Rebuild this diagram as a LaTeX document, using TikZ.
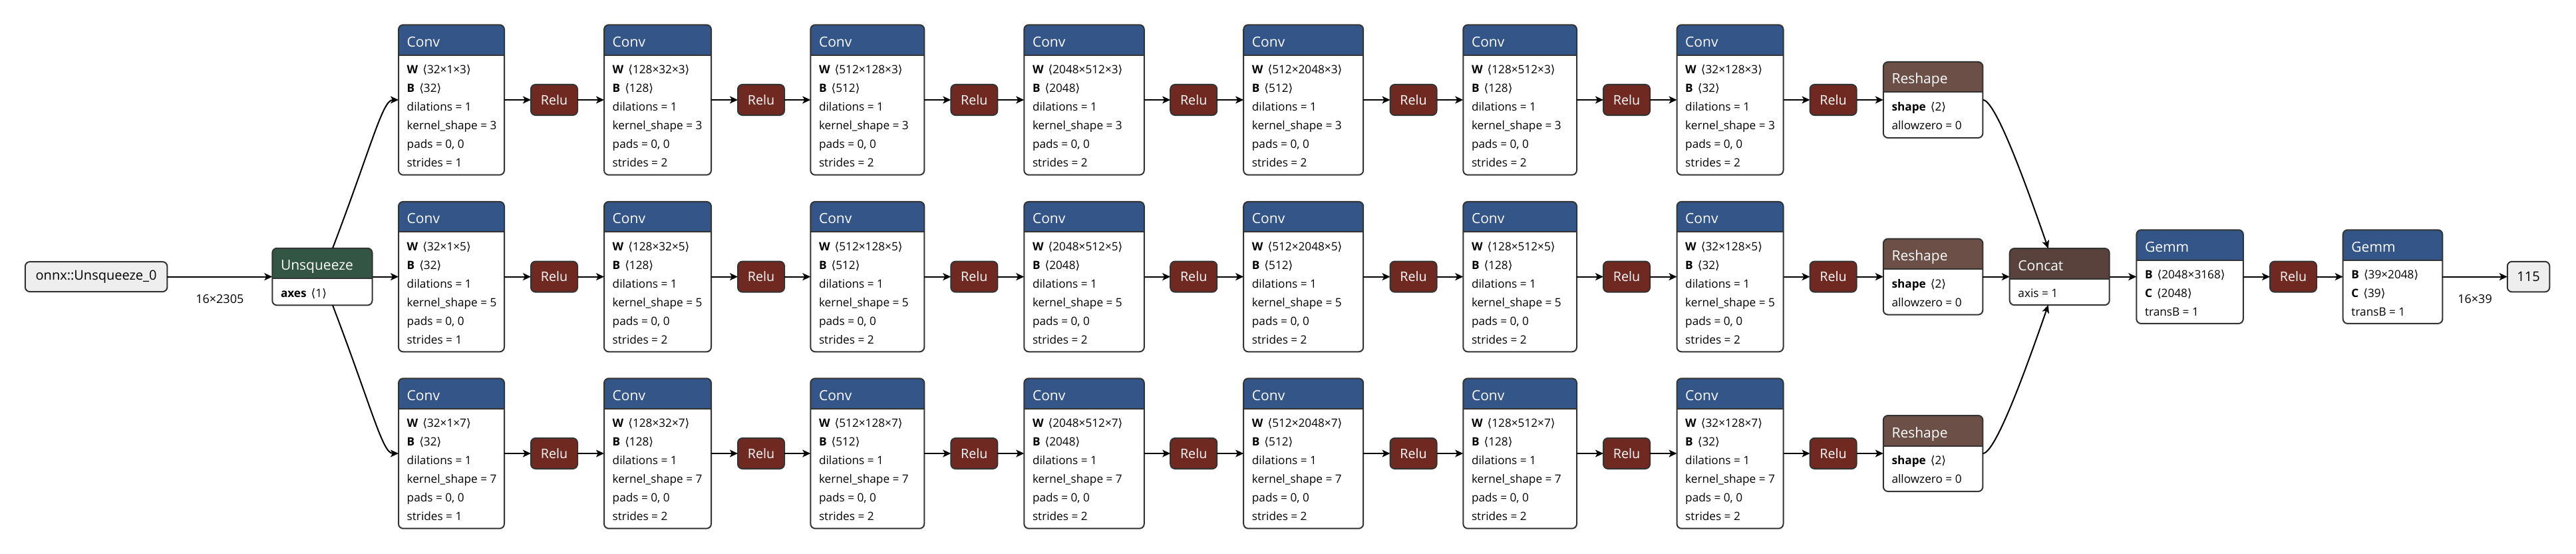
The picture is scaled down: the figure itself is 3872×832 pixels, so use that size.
\documentclass[tikz,border=0pt]{standalone}
\usepackage{fontspec}
\setmainfont{Open Sans}
\newfontfamily\symfont{DejaVu Sans}
\usetikzlibrary{arrows.meta}
\definecolor{convblue}{RGB}{51,85,136}
\definecolor{relured}{RGB}{112,41,33}
\definecolor{reshapec}{RGB}{108,79,71}
\definecolor{concatc}{RGB}{89,66,59}
\definecolor{unsqc}{RGB}{51,85,68}
\definecolor{iofill}{RGB}{238,238,238}
\definecolor{bordercol}{RGB}{51,51,51}
\newcommand\ang[1]{{\symfont ⟨}#1{\symfont ⟩}}
\newcommand\wsep{\hspace{7pt}}
\tikzset{
  opframe/.style={rectangle, fill=white, inner sep=0pt, outer sep=0pt},
  boxline/.style={draw=bordercol, line width=2pt},
  titletext/.style={text=white, inner sep=0pt, font=\fontsize{21pt}{25pt}\selectfont},
  bodytext/.style={text=black, inner sep=0pt, font=\fontsize{17.2pt}{20pt}\selectfont},
  relu/.style={rectangle, draw=bordercol, fill=relured, line width=2pt, rounded corners=7pt,
    minimum width=70pt, minimum height=46pt, inner sep=0pt, outer sep=0pt, text=white,
    font=\fontsize{19.7pt}{24pt}\selectfont},
  io/.style={rectangle, draw=bordercol, fill=iofill, line width=2pt, rounded corners=7pt,
    inner sep=0pt, outer sep=0pt, text=black, font=\fontsize{20pt}{24pt}\selectfont},
  edge/.style={draw=black, line width=2pt, -{Stealth[length=12pt,width=11pt,inset=3pt]}},
  elabel/.style={inner sep=0pt, text=black, font=\fontsize{18pt}{22pt}\selectfont},
}
% #1 name, #2 left x, #3 centre y, #4 width, #5 height, #6 header colour, #7 title, #8 body lines
\newcommand\opnode[8]{%
  \node[opframe, minimum width=#4pt, minimum height=#5pt, anchor=west] (#1) at (#2,#3) {};
  \begin{scope}
    \clip[rounded corners=7pt] (#1.north west) rectangle (#1.south east);
    \fill[#6] (#1.north west) rectangle ([yshift=-45.5pt]#1.north east);
  \end{scope}
  \draw[boxline] ([yshift=-45.5pt]#1.north west) -- ([yshift=-45.5pt]#1.north east);
  \draw[boxline, rounded corners=7pt] (#1.north west) rectangle (#1.south east);
  \node[titletext, anchor=base west] (#1-t) at ([xshift=12.5pt,yshift=-33pt]#1.north west) {#7};
  \foreach \bodyline [count=\bi] in {#8} {
    \node[bodytext, anchor=base west] (#1-\bi) at ([xshift=12.5pt,yshift={-45.5pt-28pt*\bi}]#1.north west) {\bodyline};
  }%
}
\begin{document}
\begin{tikzpicture}[x=1pt,y=-1pt]
\fill[white] (0,0) rectangle (3872,832);
\useasboundingbox (0,0) rectangle (3872,832);

% input and unsqueeze
\node[io, minimum width=213.5pt, minimum height=45pt] (in) at (144.6,415.6) {onnx::Unsqueeze\_0};
\opnode{unsq}{409.3}{415.6}{150.2}{85.6}{unsqc}{Unsqueeze}{{\textbf{axes}\wsep\ang{1}}}
\draw[edge] (in) -- node[elabel, yshift=-33pt] (lbl1) {16×2305} (unsq);

% three branches
\foreach \row/\yy/\k in {1/150/3,2/415.6/5,3/681/7}{
  \foreach \col/\xx/\ww/\wa/\wb/\bb/\st in {1/599/159/32/1/32/1,2/908/161/128/32/128/2,3/1218.3/171/512/128/512/2,4/1539.3/180.5/2048/512/2048/2,5/1869.2/180/512/2048/512/2,6/2199.3/170.7/128/512/128/2,7/2520.5/160/32/128/32/2}{
    \opnode{c\row\col}{\xx}{\yy}{\ww}{225.4}{convblue}{Conv}{{\textbf{W}\wsep\ang{\wa×\wb×\k}},{\textbf{B}\wsep\ang{\bb}},{dilations = 1},{kernel\_shape = \k},{pads = 0, 0},{strides = \st}}
  }
  \foreach \col/\xx in {1/833,2/1144,3/1464.3,4/1794.2,5/2124.5,6/2445,7/2755.5}{
    \node[relu] (r\row\col) at (\xx,\yy) {Relu};
  }
  \opnode{rs\row}{2830.8}{\yy}{149.6}{114}{reshapec}{Reshape}{{\textbf{shape}\wsep\ang{2}},{allowzero = 0}}
  \foreach \col in {1,...,6}{
    \pgfmathtruncatemacro\nx{\col+1}
    \draw[edge] (c\row\col) -- (r\row\col);
    \draw[edge] (r\row\col) -- (c\row\nx);
  }
  \draw[edge] (c\row7) -- (r\row7);
  \draw[edge] (r\row7) -- (rs\row);
}

% unsqueeze fan-out
\draw[edge] ([xshift=15.6pt]unsq.north) .. controls (560,215) and (575,150) .. (c11.west);
\draw[edge] (unsq) -- (c21);
\draw[edge] ([xshift=15.6pt]unsq.south) .. controls (560,616) and (575,681) .. (c31.west);

% concat and head
\opnode{cat}{3020.7}{415.6}{150}{85}{concatc}{Concat}{{axis = 1}}
\draw[edge] (rs1.east) .. controls +(20,0) and +(-29,-83) .. ([xshift=-17pt]cat.north);
\draw[edge] (rs2) -- (cat);
\draw[edge] (rs3.east) .. controls +(20,0) and +(-29,83) .. ([xshift=-17pt]cat.south);

\opnode{g1}{3211.3}{415.6}{160.5}{140.7}{convblue}{Gemm}{{\textbf{B}\wsep\ang{2048×3168}},{\textbf{C}\wsep\ang{2048}},{transB = 1}}
\node[relu] (gr) at (3447,415.6) {Relu};
\opnode{g2}{3521.7}{415.6}{149.6}{140.7}{convblue}{Gemm}{{\textbf{B}\wsep\ang{39×2048}},{\textbf{C}\wsep\ang{39}},{transB = 1}}
\node[io, minimum width=63.5pt, minimum height=45.6pt] (out) at (3800.5,415.6) {115};

\draw[edge] (cat) -- (g1);
\draw[edge] (g1) -- (gr);
\draw[edge] (gr) -- (g2);
\draw[edge] (g2) -- node[elabel, yshift=-33pt] (lbl2) {16×39} (out);
\end{tikzpicture}
\end{document}
